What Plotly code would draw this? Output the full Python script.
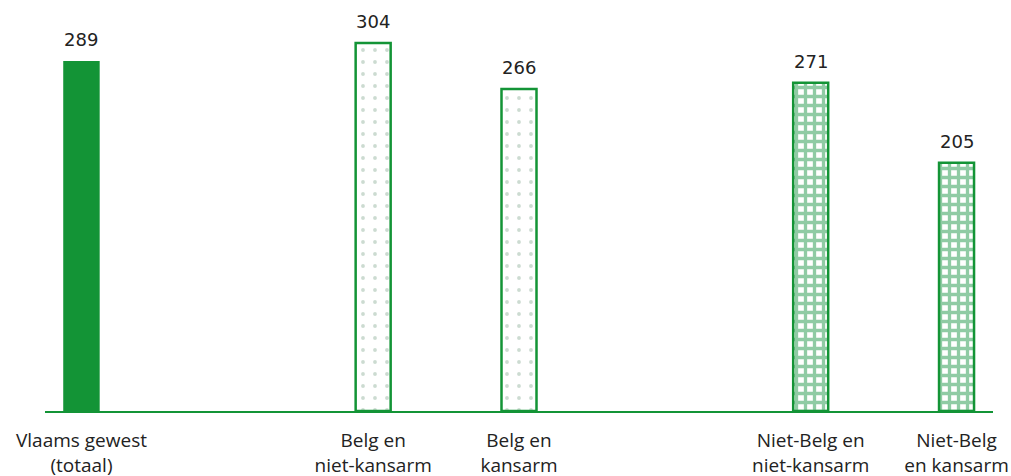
import plotly.graph_objects as go

categories = ["Vlaams gewest<br>(totaal)", "Belg en<br>niet-kansarm", "Belg en<br>kansarm",
              "Niet-Belg en<br>niet-kansarm", "Niet-Belg<br>en kansarm"]
positions = [0, 2, 3, 5, 6]
values = [289, 304, 266, 271, 205]

GREEN = "#139436"

fig = go.Figure()

fig.add_trace(go.Bar(
    x=positions[0:1], y=values[0:1], width=0.25,
    marker=dict(color=GREEN, line=dict(color=GREEN, width=0)),
))
fig.add_trace(go.Bar(
    x=positions[1:3], y=values[1:3], width=0.24,
    marker=dict(color="white", line=dict(color=GREEN, width=2.5),
                pattern=dict(shape=".", fgcolor="#9ab8a3", bgcolor="white", size=12, solidity=0.08)),
))
fig.add_trace(go.Bar(
    x=positions[3:5], y=values[3:5], width=0.24,
    marker=dict(color="white", line=dict(color=GREEN, width=2.5),
                pattern=dict(shape="+", fgcolor="#1f984a", bgcolor="white", size=9, solidity=0.6)),
))

for xp, v in zip(positions, values):
    fig.add_annotation(x=xp, y=v, text=str(v), showarrow=False, yanchor="bottom",
                       yshift=9, font=dict(size=18, color="#222222", family="DejaVu Sans"))

fig.update_layout(
    width=1011, height=476,
    margin=dict(l=45, r=18, t=20, b=65),
    plot_bgcolor="white", paper_bgcolor="white",
    showlegend=False, barmode="overlay",
    font=dict(family="Open Sans", size=18, color="#222222"),
)
fig.update_xaxes(
    range=[-0.25, 6.25], tickvals=positions, ticktext=categories, automargin=False,
    showline=True, linecolor=GREEN, linewidth=2, showgrid=False, zeroline=False,
    ticks="", ticklabelstandoff=11, tickfont=dict(size=19, family="Open Sans", color="#222222"),
)
fig.update_yaxes(range=[0, 322.9], visible=False, showgrid=False, zeroline=False, automargin=False)

fig.write_html("out.html", config={"displayModeBar": False},
               post_script="document.body.style.margin='0';document.body.style.overflow='hidden';")
